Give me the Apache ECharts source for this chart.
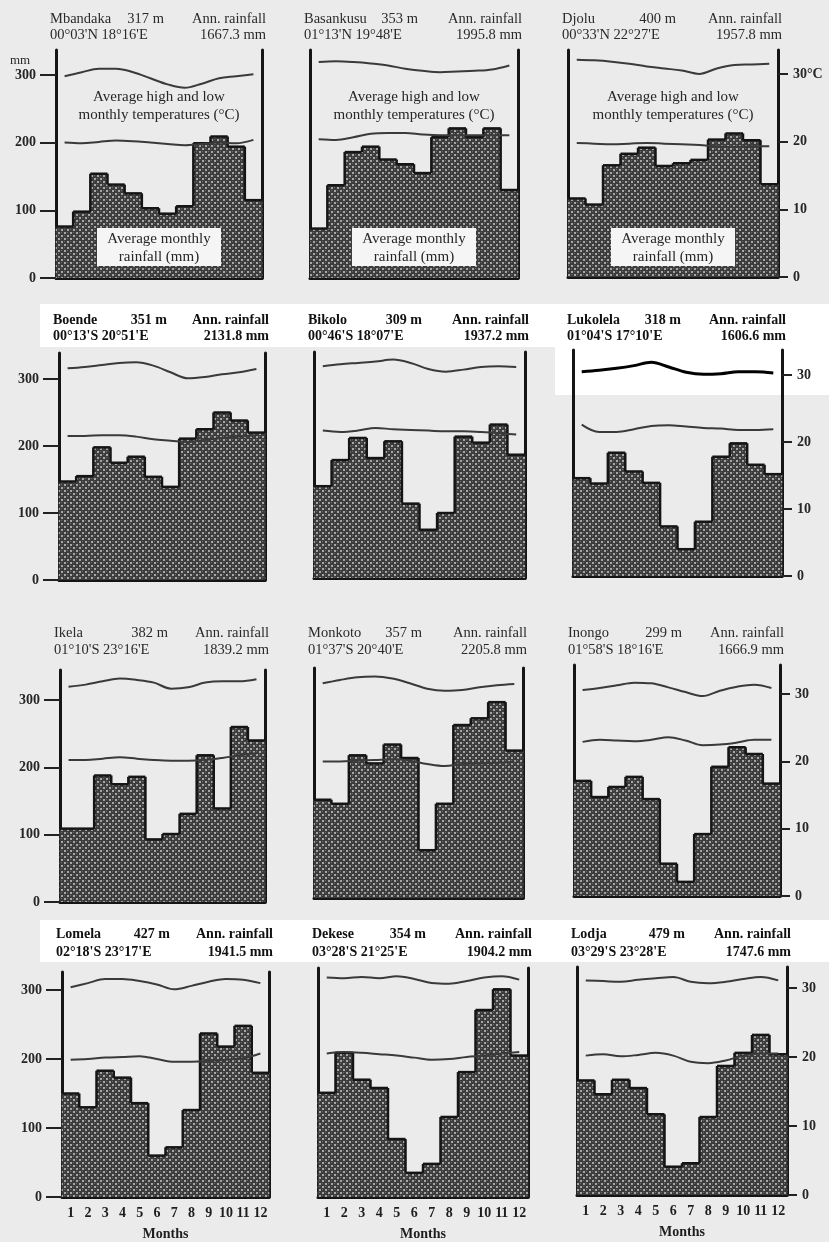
<!DOCTYPE html>
<html><head><meta charset="utf-8">
<script src="https://cdn.jsdelivr.net/npm/echarts@6/dist/echarts.min.js"></script>
<style>html,body{margin:0;padding:0;background:#ebebeb}#c{width:829px;height:1242px}</style>
</head><body><div id="c"></div>
<script>
// ---------- DATA ----------
const months = ['1','2','3','4','5','6','7','8','9','10','11','12'];
const stationNames = ['Mbandaka','Basankusu','Djolu','Boende','Bikolo','Lukolela','Ikela','Monkoto','Inongo','Lomela','Dekese','Lodja'];
const altitudes = ['317 m','353 m','400 m','351 m','309 m','318 m','382 m','357 m','299 m','427 m','354 m','479 m'];
const coordinates = ["00°03'N 18°16'E","01°13'N 19°48'E","00°33'N 22°27'E","00°13'S 20°51'E","00°46'S 18°07'E","01°04'S 17°10'E","01°10'S 23°16'E","01°37'S 20°40'E","01°58'S 18°16'E","02°18'S 23°17'E","03°28'S 21°25'E","03°29'S 23°28'E"];
const annualRainfall = ['1667.3 mm','1995.8 mm','1957.8 mm','2131.8 mm','1937.2 mm','1606.6 mm','1839.2 mm','2205.8 mm','1666.9 mm','1941.5 mm','1904.2 mm','1747.6 mm'];
const rainTicks = [0,100,200,300];
const tempTicks = [0,10,20,30];

const rainMbandaka  = [76,98,154,138,125,103,95,106,199,209,194,115];
const highMbandaka  = [29.8,30.4,30.9,30.9,30.4,29.5,28.6,28.1,28.7,29.5,29.8,30.1];
const lowMbandaka   = [20.0,19.9,20.1,20.3,20.2,20.0,19.8,19.6,19.8,20.0,19.9,20.4];

const rainBasankusu = [73,137,186,194,175,168,155,208,221,208,221,130];
const highBasankusu = [31.9,32.0,31.9,31.7,31.4,30.9,30.6,30.4,30.5,30.6,30.8,31.4];
const lowBasankusu  = [20.5,20.4,20.8,21.3,21.4,21.4,21.2,21.1,21.1,21.1,21.1,21.1];

const rainDjolu     = [116,107,165,182,191,164,168,173,203,212,202,137];
const highDjolu     = [32.1,32.0,31.8,31.5,31.1,30.8,30.5,30.0,30.8,31.3,31.4,31.5];
const lowDjolu      = [19.8,19.7,19.6,19.7,19.8,19.7,19.6,19.5,19.3,19.2,19.3,19.3];

const rainBoende    = [147,155,198,175,184,154,139,211,225,250,238,220];
const highBoende    = [31.6,31.8,32.1,32.4,32.5,32.0,31.0,30.1,30.3,30.7,31.0,31.5];
const lowBoende     = [21.5,21.5,21.6,21.6,21.4,21.0,20.8,20.6,20.9,21.2,21.4,21.6];

const rainBikolo    = [137,176,209,179,204,111,72,97,211,202,229,184];
const highBikolo    = [31.6,31.9,32.1,32.3,32.6,32.1,31.2,30.8,31.1,31.5,31.6,31.5];
const lowBikolo     = [22.0,21.8,22.0,22.4,22.2,22.1,22.0,21.9,21.9,21.8,21.6,21.4];

const rainLukolela  = [146,138,184,156,139,74,40,81,178,198,166,152];
const highLukolela  = [30.5,30.7,31.0,31.4,31.9,31.2,30.4,30.1,30.2,30.5,30.5,30.3];
const lowLukolela   = [22.6,21.5,21.5,21.9,22.4,22.5,22.3,22.1,22.0,21.8,21.8,21.9];

const rainIkela     = [109,109,188,175,186,93,101,131,218,139,260,240];
const highIkela     = [32.0,32.3,32.8,33.2,33.0,32.6,31.7,31.9,32.6,32.8,32.8,33.1];
const lowIkela      = [21.1,21.1,21.3,21.5,21.3,21.1,21.0,21.0,21.1,21.4,21.8,22.1];

const rainMonkoto   = [146,140,212,200,228,208,71,140,257,267,291,219];
const highMonkoto   = [31.9,32.4,32.8,32.9,32.6,31.9,31.1,30.8,30.9,31.3,31.6,31.8];
const lowMonkoto    = [20.3,20.3,20.4,20.5,20.6,20.4,19.9,19.6,19.9,20.0,20.1,20.2];

const rainInongo    = [171,147,162,177,144,48,21,92,192,221,211,167];
const highInongo    = [30.6,30.9,31.3,31.7,31.6,31.0,30.3,29.7,30.5,31.1,31.4,30.9];
const lowInongo     = [22.9,23.2,23.1,23.0,23.2,23.6,23.1,22.4,22.5,22.8,23.2,23.2];

const rainLomela    = [150,130,183,173,136,60,72,126,237,218,248,180];
const highLomela    = [30.4,31.0,31.6,31.6,31.3,30.8,30.1,30.6,31.2,31.6,31.5,31.0];
const lowLomela     = [19.9,20.0,20.2,20.3,20.4,20.0,19.6,19.6,19.7,19.9,20.1,20.8];

const rainDekese    = [151,209,170,158,84,35,48,116,181,271,301,205];
const highDekese    = [31.8,31.7,31.9,31.7,32.0,31.6,31.0,30.9,31.3,31.8,32.0,31.5];
const lowDekese     = [20.8,21.0,20.9,20.7,20.5,20.2,19.9,20.0,20.3,20.5,20.8,21.0];

const rainLodja     = [166,146,167,155,117,41,46,113,187,206,232,204];
const highLodja     = [31.1,31.0,30.9,31.2,31.4,31.6,30.9,30.7,30.9,31.3,31.6,31.1];
const lowLodja      = [20.2,20.4,20.1,20.3,20.6,20.2,19.3,19.1,19.5,20.2,20.5,20.5];

const rainfall = [rainMbandaka,rainBasankusu,rainDjolu,rainBoende,rainBikolo,rainLukolela,rainIkela,rainMonkoto,rainInongo,rainLomela,rainDekese,rainLodja];
const highTemp = [highMbandaka,highBasankusu,highDjolu,highBoende,highBikolo,highLukolela,highIkela,highMonkoto,highInongo,highLomela,highDekese,highLodja];
const lowTemp  = [lowMbandaka,lowBasankusu,lowDjolu,lowBoende,lowBikolo,lowLukolela,lowIkela,lowMonkoto,lowInongo,lowLomela,lowDekese,lowLodja];

// ---------- LAYOUT ----------
const panels = [
  {L:56,R:262,top:50,base:278,row:0,col:0},{L:310,R:518,top:50,base:278,row:0,col:1},{L:568,R:778,top:50,base:277,row:0,col:2},
  {L:59,R:265,top:353,base:580,row:1,col:0},{L:314,R:525,top:352,base:578,row:1,col:1},{L:573,R:782,top:350,base:576,row:1,col:2},
  {L:60,R:265,top:670,base:902,row:2,col:0},{L:314,R:523,top:668,base:898,row:2,col:1},{L:574,R:780,top:665,base:896,row:2,col:2},
  {L:62,R:269,top:972,base:1197,row:3,col:0},{L:318,R:528,top:968,base:1197,row:3,col:1},{L:577,R:787,top:967,base:1195,row:3,col:2}
];
const rowScale = [0.677,0.67,0.673,0.69]; // px per mm
const headerY = [[19,35],[320,336],[633,650],[934,952]];
const SERIF = "'Liberation Serif','DejaVu Serif',serif";

// halftone pattern
const pc = document.createElement('canvas'); pc.width = 6; pc.height = 6;
const g = pc.getContext('2d');
g.fillStyle = '#3c3c3c'; g.fillRect(0,0,6,6);
g.fillStyle = '#a6a6a6'; g.fillRect(1,1,2,2); g.fillRect(4,4,2,2);
g.fillStyle = '#6c6c6c'; g.fillRect(4,1,1,1); g.fillRect(1,4,1,1);
const pattern = {image: pc, repeat: 'repeat'};

function renderRain(params, api){
  const i = api.value(0), v = api.value(1), pv = api.value(2);
  const t = api.coord([i, v]);
  const b = api.coord([i, 0]);
  const pr = api.coord([i, pv]);
  const w = api.size([1, 0])[0];
  const x0 = t[0] - w/2, x1 = t[0] + w/2;
  return {type:'group', children:[
    {type:'rect', shape:{x:x0-0.3, y:t[1], width:w+0.6, height:b[1]-t[1]}, style:{fill:pattern}},
    {type:'line', shape:{x1:x0, y1:t[1], x2:x1, y2:t[1]}, style:{stroke:'#151515', lineWidth:2.5}},
    {type:'line', shape:{x1:x0, y1:pr[1], x2:x0, y2:t[1]}, style:{stroke:'#151515', lineWidth:2.5}}
  ]};
}

const grid=[], xAxis=[], yAxis=[], series=[], graphic=[];
function txt(x,y,s,align,opt){
  opt = opt||{};
  return {type:'text', z: opt.z||10, style:{text:s, x:x, y:y, fill:opt.color||'#1e1e1e',
    font:(opt.weight||'normal')+' '+(opt.size||13)+'px '+SERIF,
    textAlign:align, align:align, textVerticalAlign:'middle', verticalAlign:'middle'}};
}
// white pasted strips
graphic.push({type:'rect', z:-10, shape:{x:40,y:304,width:789,height:43}, style:{fill:'#ffffff'}});
graphic.push({type:'rect', z:-10, shape:{x:555,y:347,width:274,height:48}, style:{fill:'#ffffff'}});
graphic.push({type:'rect', z:-10, shape:{x:40,y:920,width:789,height:42}, style:{fill:'#ffffff'}});

panels.forEach((p,k)=>{
  const kpx = rowScale[p.row];
  const maxMm = (p.base - p.top)/kpx;
  const bottomRow = p.row === 3;
  grid.push({left:p.L, top:p.top, width:p.R-p.L, height:p.base-p.top});
  xAxis.push({type:'category', gridIndex:k, data:months, boundaryGap:true,
    axisLine:{show:true, lineStyle:{color:'#151515', width:3}}, axisTick:{show:false},
    axisLabel:{show:bottomRow, interval:0, margin:9, fontFamily:SERIF, fontSize:14, fontWeight:'bold', color:'#1e1e1e'},
    name: bottomRow ? 'Months' : '', nameLocation:'middle', nameGap:30,
    nameTextStyle:{fontFamily:SERIF, fontSize:14, fontWeight:'bold', color:'#1e1e1e'}, splitLine:{show:false}});
  yAxis.push({type:'value', gridIndex:k, min:0, max:maxMm, position:'left',
    axisLine:{show:true, onZero:false, lineStyle:{color:'#151515', width:3}},
    axisTick:{show:p.col===0, length:16, customValues:rainTicks, lineStyle:{color:'#222', width:2}},
    axisLabel:{show:p.col===0, margin:20, customValues:rainTicks, fontFamily:SERIF, fontSize:14, fontWeight:'bold', color:'#262626'},
    splitLine:{show:false}});
  yAxis.push({type:'value', gridIndex:k, min:0, max:maxMm/10, position:'right',
    axisLine:{show:true, onZero:false, lineStyle:{color:'#151515', width:3}},
    axisTick:{show:p.col===2, length:10, customValues:tempTicks, lineStyle:{color:'#222', width:2}},
    axisLabel:{show:p.col===2, margin:15, customValues:tempTicks, fontFamily:SERIF, fontSize:14, fontWeight:'bold', color:'#262626',
      formatter:(v)=> (k===2 && v===30) ? '30°C' : String(v)},
    splitLine:{show:false}});
  const r = rainfall[k];
  series.push({type:'custom', xAxisIndex:k, yAxisIndex:2*k, z:2, silent:true, clip:false,
    renderItem:renderRain, data:r.map((v,i)=>[i, v, i>0 ? r[i-1] : v])});
  const thick = k===5;
  series.push({type:'line', xAxisIndex:k, yAxisIndex:2*k+1, z:3, data:highTemp[k], smooth:0.35, symbol:'none', silent:true,
    lineStyle:{color: thick ? '#000' : '#3a3a3a', width: thick ? 3 : 2}});
  series.push({type:'line', xAxisIndex:k, yAxisIndex:2*k+1, z:3, data:lowTemp[k], smooth:0.35, symbol:'none', silent:true,
    lineStyle:{color:'#3a3a3a', width:2}});

  // header
  const hy = headerY[p.row];
  const boldRow = (p.row===1 || p.row===3);
  const hw = boldRow ? 'bold' : 'normal';
  const hs = boldRow ? 14 : 14.5;
  const hc = boldRow ? '#111' : '#2a2a2a';
  const x0 = p.L - 6, x1 = p.R + 4;
  graphic.push(txt(x0, hy[0], stationNames[k], 'left', {weight:hw, color:hc, size:hs}));
  graphic.push(txt(x0+114, hy[0], altitudes[k], 'right', {weight:hw, color:hc, size:hs}));
  graphic.push(txt(x1, hy[0], 'Ann. rainfall', 'right', {weight:hw, color:hc, size:hs}));
  graphic.push(txt(x0, hy[1], coordinates[k], 'left', {weight:hw, color:hc, size:hs}));
  graphic.push(txt(x1, hy[1], annualRainfall[k], 'right', {weight:hw, color:hc, size:hs}));

  if (p.row === 0) {
    const cx = (p.L + p.R)/2;
    graphic.push(txt(cx, 97, 'Average high and low', 'center', {size:15, color:'#262626'}));
    graphic.push(txt(cx, 115, 'monthly temperatures (°C)', 'center', {size:15, color:'#262626'}));
    graphic.push({type:'rect', z:8, shape:{x:cx-62, y:228, width:124, height:38}, style:{fill:'#f5f5f5'}});
    graphic.push(txt(cx, 239, 'Average monthly', 'center', {size:15, color:'#262626'}));
    graphic.push(txt(cx, 257, 'rainfall (mm)', 'center', {size:15, color:'#262626'}));
  }
});
graphic.push(txt(10, 61, 'mm', 'left', {size:13, color:'#2a2a2a'}));

const chart = echarts.init(document.getElementById('c'), null, {renderer:'canvas'});
chart.setOption({backgroundColor:'#ebebeb', animation:false, grid, xAxis, yAxis, series, graphic});
</script></body></html>
